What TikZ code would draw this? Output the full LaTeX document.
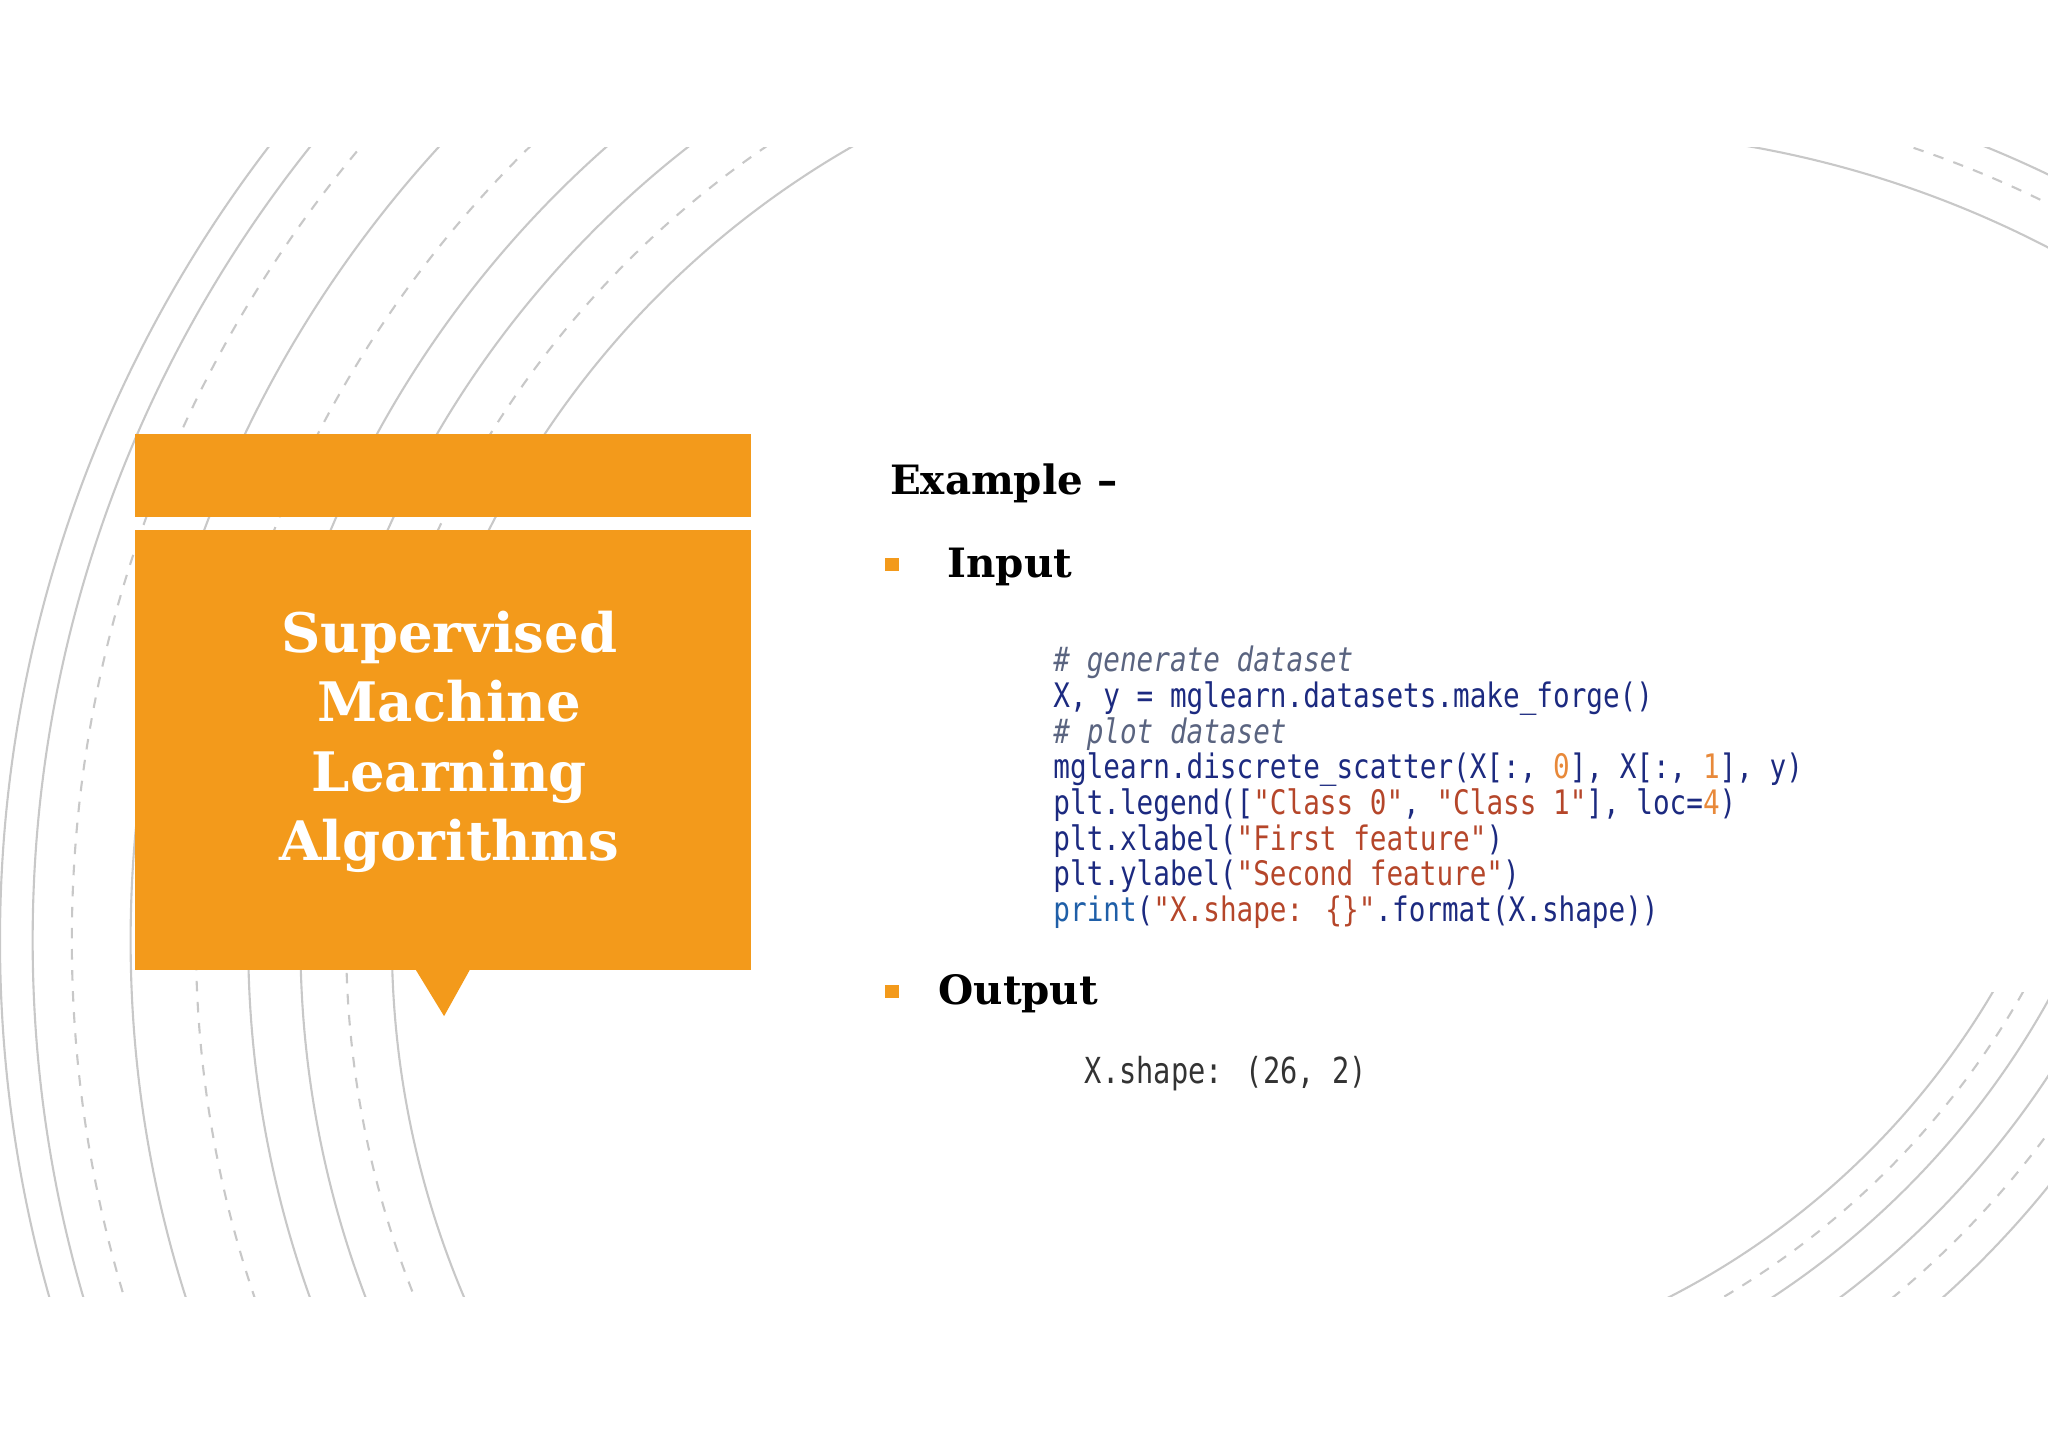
\documentclass[tikz,border=0pt]{standalone}
\usepackage{fontspec}
\setmainfont{DejaVu Serif}
\newfontfamily\codefont{DejaVu Sans Mono}
\usetikzlibrary{positioning}
\definecolor{slideorange}{HTML}{F39A1B}
\definecolor{arcgray}{HTML}{C8C8C8}
\definecolor{kwblue}{HTML}{1C2A80}
\definecolor{cmgray}{HTML}{5A6480}
\definecolor{strred}{HTML}{B5462A}
\definecolor{numorange}{HTML}{E8893A}
\definecolor{prtblue}{HTML}{1F5FA8}
\newcommand{\cstr}[1]{\textcolor{strred}{#1}}
\newcommand{\cnum}[1]{\textcolor{numorange}{#1}}

\begin{document}
\begin{tikzpicture}[x=0.01306cm,y=-0.01306cm,
  arcline/.style={arcgray, line width=0.6pt},
  arcdash/.style={arcgray, line width=0.6pt, dashed},
  bulletsq/.style={fill=slideorange, minimum size=3.8pt, inner sep=0pt},
  headtext/.style={anchor=west, font=\fontsize{11.5}{14}\selectfont\bfseries},
  codetext/.style={anchor=north west, inner sep=0pt, align=left}]

 \useasboundingbox (0,0) rectangle (1568,1108.7);

 % background arcs
 \begin{scope}
  \clip (0,113) rectangle (700,993);
  \foreach \r/\s in {1000/arcline,975/arcline,945/arcdash,900/arcline,
                     850/arcdash,810/arcline,770/arcline,735/arcdash,700/arcline}
   \draw[\s] (1000,720) circle (\r);
 \end{scope}
 \begin{scope}
  \clip (1300,113) rectangle (1568,400);
  \foreach \r/\s in {800/arcline,830/arcdash,850/arcline,875/arcline}
   \draw[\s] (1200,900) circle (\r);
 \end{scope}
 \begin{scope}
  \clip (1250,760) rectangle (1568,993);
  \foreach \r/\s in {610/arcline,630/arcdash,650/arcline,680/arcline,705/arcdash,730/arcline}
   \draw[\s] (1000,450) circle (\r);
 \end{scope}

 % title box
 \fill[slideorange] (103,332) rectangle (575,396);
 \fill[slideorange] (103,406) rectangle (575,743);
 \fill[slideorange] (318,742) -- (360,742) -- (340,778) -- cycle;
 \node[white, align=center, font=\fontsize{15.5}{19.8}\selectfont\bfseries] (title) at (344,568)
   {Supervised\\Machine\\Learning\\Algorithms};

 % right column
 \node[headtext] (example) at (672,370) {Example –};
 \node[bulletsq] (bulinput) at (683,432) {};
 \node[headtext] (input) at (716,434) {Input};
 \node[codetext] (code) at (806,494) {\scalebox{0.82}[1]{\codefont\fontsize{9.6}{9.4}\selectfont
   \begin{tabular}{@{}l@{}}
   \textcolor{cmgray}{\itshape \# generate dataset}\\
   \textcolor{kwblue}{X, y = mglearn.datasets.make\_forge()}\\
   \textcolor{cmgray}{\itshape \# plot dataset}\\
   \textcolor{kwblue}{mglearn.discrete\_scatter(X[:, \cnum{0}], X[:, \cnum{1}], y)}\\
   \textcolor{kwblue}{plt.legend([\cstr{"Class 0"}, \cstr{"Class 1"}], loc=\cnum{4})}\\
   \textcolor{kwblue}{plt.xlabel(\cstr{"First feature"})}\\
   \textcolor{kwblue}{plt.ylabel(\cstr{"Second feature"})}\\
   \textcolor{prtblue}{print}\textcolor{kwblue}{(\cstr{"X.shape: \{\}"}.format(X.shape))}
   \end{tabular}}};
 \node[bulletsq] (buloutput) at (683,759) {};
 \node[headtext] (output) at (709,761) {Output};
 \node[anchor=west, inner sep=0pt] (result) at (830,822)
   {\scalebox{0.8}[1]{\codefont\fontsize{10.2}{12}\selectfont\textcolor{black!80}{X.shape: (26, 2)}}};
\end{tikzpicture}
\end{document}
